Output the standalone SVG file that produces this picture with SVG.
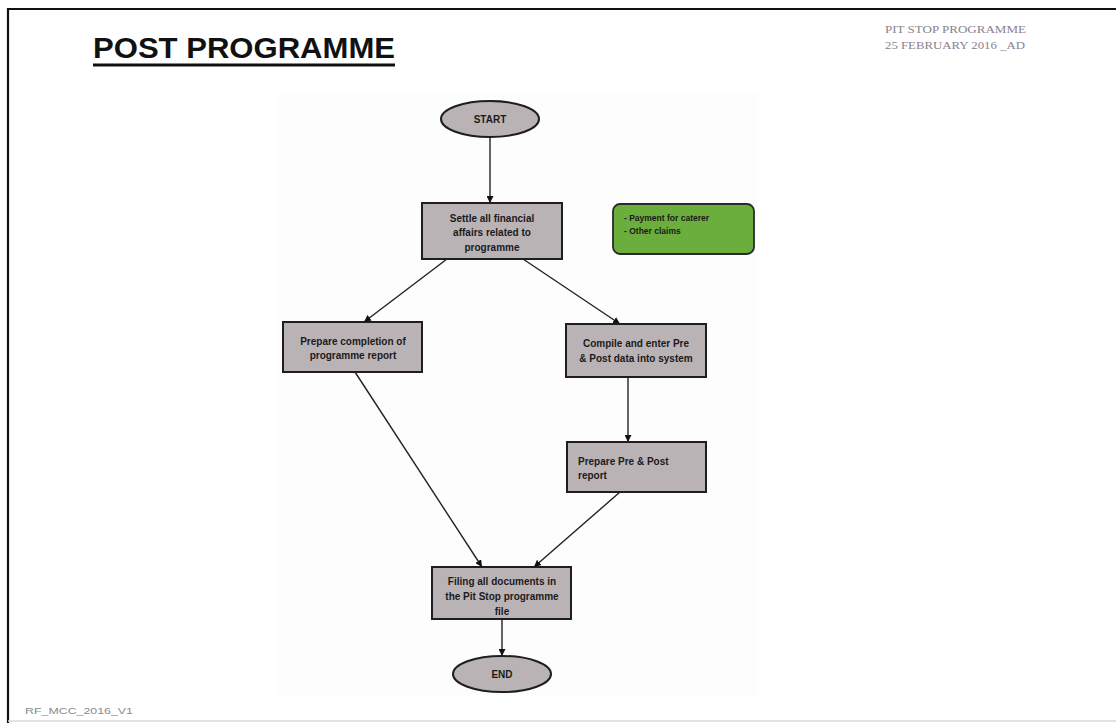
<svg xmlns="http://www.w3.org/2000/svg" width="1116" height="723" viewBox="0 0 1116 723">
<style>
.box{fill:#bab3b6;stroke:#1e1e1e;stroke-width:2}
.t{font-family:"Liberation Sans",Arial,sans-serif;font-weight:bold;font-size:10px;fill:#1a1a1a}
.tc{text-anchor:middle}
.g{font-family:"Liberation Sans",Arial,sans-serif;font-weight:bold;font-size:8.5px;fill:#1a1a1a}
.con{stroke:#222;stroke-width:1.4;fill:none;marker-end:url(#ah)}
.hdr{font-family:"Liberation Serif","Times New Roman",serif;font-size:11px;fill:#8a8290}
</style>
<defs>
<marker id="ah" viewBox="0 0 10 10" refX="10" refY="5" markerWidth="7" markerHeight="7" orient="auto" markerUnits="userSpaceOnUse">
<path d="M0,0 L10,5 L0,10 z" fill="#111"/>
</marker>
</defs>
<rect x="0" y="0" width="1116" height="723" fill="#ffffff"/>
<rect x="277" y="92" width="480" height="603" fill="#fdfdfd"/>
<g id="frame" stroke="#111" stroke-width="2.2">
<line x1="7" y1="9" x2="1116" y2="9"/>
<line x1="8" y1="8" x2="8" y2="723"/>
</g>
<line x1="8" y1="721" x2="1116" y2="721" stroke="#d8d8d8" stroke-width="1.5"/>
<g id="title">
<text x="93" y="58" font-family="'Liberation Sans',Arial,sans-serif" font-weight="bold" font-size="29" fill="#111" textLength="302" lengthAdjust="spacingAndGlyphs">POST PROGRAMME</text>
<rect x="93" y="63.5" width="302" height="3" fill="#111"/>
</g>
<g id="header">
<text class="hdr" x="885" y="33" textLength="141" lengthAdjust="spacingAndGlyphs">PIT STOP PROGRAMME</text>
<text class="hdr" x="885" y="49" textLength="140" lengthAdjust="spacingAndGlyphs">25 FEBRUARY 2016 _AD</text>
</g>
<text id="footer" x="25" y="714" font-family="'Liberation Sans',Arial,sans-serif" font-size="9.5" fill="#8a8a8a" textLength="108" lengthAdjust="spacingAndGlyphs">RF_MCC_2016_V1</text>
<g id="connectors">
<line class="con" x1="490" y1="137" x2="490" y2="203"/>
<line class="con" x1="447" y1="259" x2="364" y2="322"/>
<line class="con" x1="523" y1="259" x2="620" y2="324"/>
<line class="con" x1="628" y1="377" x2="628" y2="442"/>
<line class="con" x1="355" y1="372" x2="482" y2="567"/>
<line class="con" x1="620" y1="492" x2="534" y2="567"/>
<line class="con" x1="502" y1="619" x2="502" y2="656"/>
</g>
<g id="start">
<ellipse class="box" cx="490" cy="119" rx="49" ry="18"/>
<text class="t tc" x="490" y="122.5" font-size="9">START</text>
</g>
<g id="settle">
<rect class="box" x="422" y="203" width="140" height="56"/>
<text class="t tc" x="492" y="221.5">Settle all financial</text>
<text class="t tc" x="492" y="236">affairs related to</text>
<text class="t tc" x="492" y="250.5">programme</text>
</g>
<g id="note">
<rect x="613" y="204" width="141" height="50" rx="7" ry="7" fill="#6cae3e" stroke="#2a2a2a" stroke-width="1.8"/>
<text class="g" x="624" y="221">- Payment for caterer</text>
<text class="g" x="624" y="234">- Other claims</text>
</g>
<g id="completion">
<rect class="box" x="283" y="322" width="139" height="50"/>
<text class="t tc" x="353" y="344.5">Prepare completion of</text>
<text class="t tc" x="353" y="358.5">programme report</text>
</g>
<g id="compile">
<rect class="box" x="566" y="324" width="140" height="53"/>
<text class="t tc" x="636" y="346.5">Compile and enter Pre</text>
<text class="t tc" x="636" y="362">&amp; Post data into system</text>
</g>
<g id="prepost">
<rect class="box" x="567" y="442" width="139" height="50"/>
<text class="t" x="578" y="464.5">Prepare Pre &amp; Post</text>
<text class="t" x="578" y="478.5">report</text>
</g>
<g id="filing">
<rect class="box" x="432" y="567" width="139" height="52"/>
<text class="t tc" x="502" y="584.5">Filing all documents in</text>
<text class="t tc" x="502" y="600">the Pit Stop programme</text>
<text class="t tc" x="502" y="614.5">file</text>
</g>
<g id="end">
<ellipse class="box" cx="502" cy="674" rx="49" ry="18"/>
<text class="t tc" x="502" y="677.5" font-size="9">END</text>
</g>
</svg>
